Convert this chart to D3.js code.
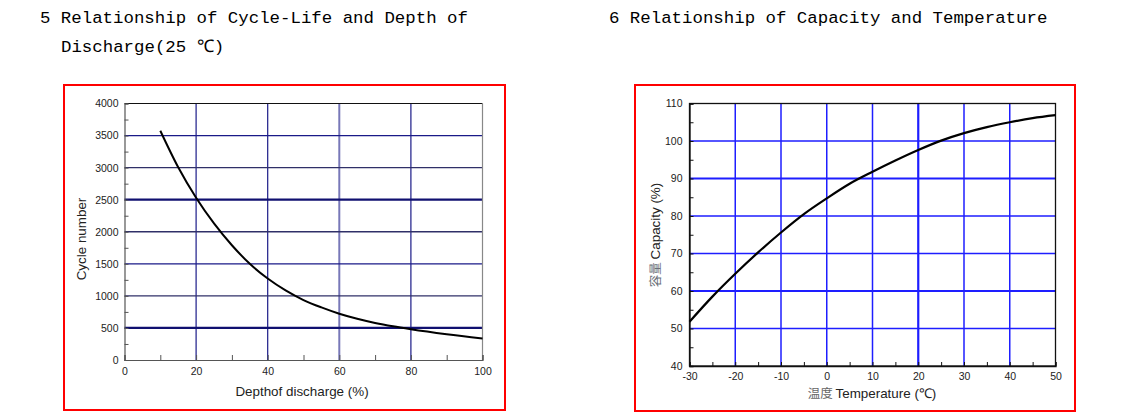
<!DOCTYPE html>
<html>
<head>
<meta charset="utf-8">
<script src="https://cdn.jsdelivr.net/npm/d3@7"></script>
<style>
  body { margin: 0; background: #fff; }
  svg { display: block; }
  .title { font-family: "Liberation Mono", monospace; font-size: 17.4px; fill: #000; }
  .tick text { font-family: "Liberation Sans", Arial, sans-serif; font-size: 10.5px; fill: #222; }
  .lbl { font-family: "Liberation Sans", Arial, sans-serif; font-size: 13.4px; fill: #222; }
</style>
</head>
<body>
<script>
// chart 5: cycle life vs depth of discharge
const dodX = [10, 15, 20, 25, 30, 35, 40, 45, 50, 55, 60, 65, 70, 75, 80, 90, 100];
const cycles = [3575, 3005, 2530, 2130, 1790, 1500, 1270, 1085, 935, 820, 722, 643, 578, 525, 480, 402, 335];
const dodTicks = [0, 20, 40, 60, 80, 100];
const cycleTicks = [0, 500, 1000, 1500, 2000, 2500, 3000, 3500, 4000];

// chart 6: capacity vs temperature
const tempX = [-30, -25, -20, -15, -10, -5, 0, 5, 10, 15, 20, 25, 30, 35, 40, 45, 50];
const capacity = [51.8, 58.5, 64.6, 70.3, 75.6, 80.5, 84.7, 88.6, 91.8, 94.8, 97.6, 100.1, 102.1, 103.7, 105.0, 106.1, 106.9];
const tempTicks = [-30, -20, -10, 0, 10, 20, 30, 40, 50];
const capTicks = [40, 50, 60, 70, 80, 90, 100, 110];

const W = 1139, H = 419;

const svg = d3.select("body").append("svg")
    .attr("width", W)
    .attr("height", H);

// titles
svg.append("text").attr("class", "title").attr("x", 40).attr("y", 23)
    .text("5 Relationship of Cycle-Life and Depth of");
svg.append("text").attr("class", "title").attr("x", 61).attr("y", 52)
    .text("Discharge(25 ℃)");
svg.append("text").attr("class", "title").attr("x", 609).attr("y", 23)
    .text("6 Relationship of Capacity and Temperature");

// red frames
svg.append("rect").attr("x", 64).attr("y", 85).attr("width", 441).attr("height", 325)
    .attr("fill", "none").attr("stroke", "#ff0000").attr("stroke-width", 2);
svg.append("rect").attr("x", 635).attr("y", 85).attr("width", 440).attr("height", 326)
    .attr("fill", "none").attr("stroke", "#ff0000").attr("stroke-width", 2);

// ---------- left chart
{
  const x = d3.scaleLinear().domain([0, 100]).range([124.5, 482.5]);
  const y = d3.scaleLinear().domain([0, 4000]).range([360, 103.5]);
  const g = svg.append("g");

  // grid
  const vStyle = v => v === 60 ? ["#7878b8", 2] : ["#1a1a88", 1.2];
  const hStyle = v => (v === 500 || v === 2500) ? ["#101070", 2.2] : (v % 1000 === 0 ? ["#303068", 1.4] : ["#1a1a88", 1.2]);
  g.selectAll(".vg").data(dodTicks.slice(1, -1)).join("line")
      .attr("x1", d => x(d)).attr("x2", d => x(d))
      .attr("y1", y(0)).attr("y2", y(4000))
      .attr("stroke", d => vStyle(d)[0]).attr("stroke-width", d => vStyle(d)[1]);
  g.selectAll(".hg").data(cycleTicks.slice(1, -1)).join("line")
      .attr("x1", x(0)).attr("x2", x(100))
      .attr("y1", d => y(d)).attr("y2", d => y(d))
      .attr("stroke", d => hStyle(d)[0]).attr("stroke-width", d => hStyle(d)[1]);

  // frame top/right
  g.append("line").attr("x1", x(0)).attr("x2", x(100)).attr("y1", y(4000)).attr("y2", y(4000))
      .attr("stroke", "#111").attr("stroke-width", 1.2);
  g.append("line").attr("x1", x(100)).attr("x2", x(100)).attr("y1", y(0)).attr("y2", y(4000))
      .attr("stroke", "#888").attr("stroke-width", 1.2);

  // axes
  const ax = g.append("g").attr("transform", `translate(0,${y(0)})`)
      .call(d3.axisBottom(x).tickValues(d3.range(0, 101, 10)).tickSize(-5).tickPadding(8)
        .tickFormat(d => d % 20 === 0 ? d : ""));
  const ay = g.append("g").attr("transform", `translate(${x(0)},0)`)
      .call(d3.axisLeft(y).tickValues(d3.range(0, 4001, 250)).tickSize(-4).tickPadding(6)
        .tickFormat(d => d % 500 === 0 ? d : ""));
  [ax, ay].forEach(a => {
    a.select(".domain").attr("stroke", "#555").attr("stroke-width", 1.2);
    a.selectAll(".tick line").attr("stroke", "#555");
  });

  g.append("path").datum(dodX.map((d, i) => [d, cycles[i]]))
      .attr("fill", "none").attr("stroke", "#000").attr("stroke-width", 2)
      .attr("d", d3.line().x(d => x(d[0])).y(d => y(d[1])).curve(d3.curveMonotoneX));

  g.append("text").attr("class", "lbl").attr("text-anchor", "middle")
      .attr("x", 302).attr("y", 396).text("Depthof discharge (%)");
  g.append("text").attr("class", "lbl").attr("text-anchor", "middle")
      .attr("transform", "translate(86,239) rotate(-90)").text("Cycle number");
}

// ---------- right chart
{
  const x = d3.scaleLinear().domain([-30, 50]).range([689.5, 1055.5]);
  const y = d3.scaleLinear().domain([40, 110]).range([366, 103.5]);
  const g = svg.append("g");

  const vW = v => v === 20 ? 2.2 : 1.5;
  const hW = v => (v === 60 || v === 90) ? 2.2 : 1.5;
  g.selectAll(".vg").data(tempTicks.slice(1, -1)).join("line")
      .attr("x1", d => x(d)).attr("x2", d => x(d))
      .attr("y1", y(40)).attr("y2", y(110))
      .attr("stroke", "#1e1eff").attr("stroke-width", vW);
  g.selectAll(".hg").data(capTicks.slice(1, -1)).join("line")
      .attr("x1", x(-30)).attr("x2", x(50))
      .attr("y1", d => y(d)).attr("y2", d => y(d))
      .attr("stroke", "#1e1eff").attr("stroke-width", hW);

  g.append("rect").attr("x", x(-30)).attr("y", y(110))
      .attr("width", x(50) - x(-30)).attr("height", y(40) - y(110))
      .attr("fill", "none").attr("stroke", "#111").attr("stroke-width", 1.3);

  const ax = g.append("g").attr("transform", `translate(0,${y(40)})`)
      .call(d3.axisBottom(x).tickValues(d3.range(-30, 51, 5)).tickSize(-4).tickPadding(7)
        .tickFormat(d => d % 10 === 0 ? d : ""));
  const ay = g.append("g").attr("transform", `translate(${x(-30)},0)`)
      .call(d3.axisLeft(y).tickValues(d3.range(40, 111, 5)).tickSize(-4).tickPadding(7)
        .tickFormat(d => d % 10 === 0 ? d : ""));
  [ax, ay].forEach(a => {
    a.select(".domain").attr("stroke", "#111").attr("stroke-width", 1.3);
    a.selectAll(".tick line").attr("stroke", "#111");
  });

  g.append("path").datum(tempX.map((d, i) => [d, capacity[i]]))
      .attr("fill", "none").attr("stroke", "#000").attr("stroke-width", 2.2)
      .attr("d", d3.line().x(d => x(d[0])).y(d => y(d[1])).curve(d3.curveMonotoneX));

  const xl = g.append("text").attr("class", "lbl").attr("text-anchor", "middle")
      .attr("x", 872).attr("y", 398);
  xl.append("tspan").attr("fill", "#666").attr("font-family", "Noto Sans CJK SC").attr("font-size", "12.5px").text("温度 ");
  xl.append("tspan").text("Temperature (℃)");

  const yl = g.append("text").attr("class", "lbl").attr("text-anchor", "middle")
      .attr("transform", "translate(660,235) rotate(-90)");
  yl.append("tspan").attr("fill", "#6a7078").attr("font-family", "Noto Sans CJK SC").attr("font-size", "12.5px").text("容量 ");
  yl.append("tspan").text("Capacity (%)");
}
</script>
</body>
</html>
